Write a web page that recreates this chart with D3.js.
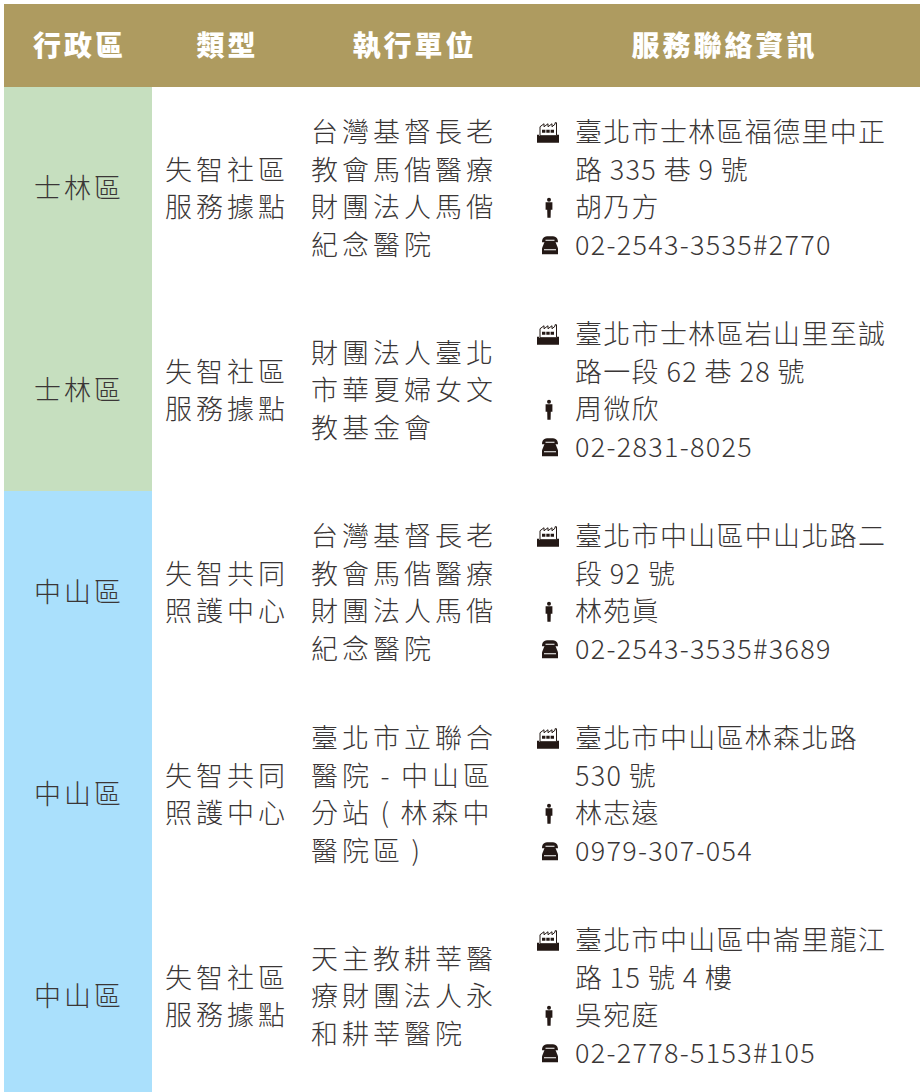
<!DOCTYPE html>
<html>
<head>
<meta charset="utf-8">
<script src="https://cdn.jsdelivr.net/npm/d3@7/dist/d3.min.js"></script>
<style>
  html, body { margin: 0; padding: 0; background: #fff; }
  svg { display: block; }
  text { font-family: "Noto Sans CJK TC", "Noto Sans", sans-serif; }
</style>
</head>
<body>
<svg id="table"></svg>
<script>
const headers = ['行政區', '類型', '執行單位', '服務聯絡資訊'];
const districts = ['士林區', '士林區', '中山區', '中山區', '中山區'];
const types = [
  ['失智社區', '服務據點'],
  ['失智社區', '服務據點'],
  ['失智共同', '照護中心'],
  ['失智共同', '照護中心'],
  ['失智社區', '服務據點']
];
const agencies = [
  ['台灣基督長老', '教會馬偕醫療', '財團法人馬偕', '紀念醫院'],
  ['財團法人臺北', '市華夏婦女文', '教基金會'],
  ['台灣基督長老', '教會馬偕醫療', '財團法人馬偕', '紀念醫院'],
  ['臺北市立聯合', '醫院 - 中山區', '分站 ( 林森中', '醫院區 )'],
  ['天主教耕莘醫', '療財團法人永', '和耕莘醫院']
];
const addresses = [
  ['臺北市士林區福德里中正', '路 335 巷 9 號'],
  ['臺北市士林區岩山里至誠', '路一段 62 巷 28 號'],
  ['臺北市中山區中山北路二', '段 92 號'],
  ['臺北市中山區林森北路', '530 號'],
  ['臺北市中山區中崙里龍江', '路 15 號 4 樓']
];
const contacts = ['胡乃方', '周微欣', '林苑眞', '林志遠', '吳宛庭'];
const phones = ['02-2543-3535#2770', '02-2831-8025', '02-2543-3535#3689', '0979-307-054', '02-2778-5153#105'];
const districtColors = { '士林區': '#c6dfbf', '中山區': '#aae0fc' };

const width = 920, height = 1092;
const headerColor = '#ae9b60';
const textColor = '#3a3636';
const iconColor = '#231815';
const lineGap = 37.5;

const svg = d3.select('#table').attr('width', width).attr('height', height);

// last row runs past the bottom edge of the picture
const y = d3.scaleBand().domain(d3.range(districts.length)).range([87, 1097]);

// header
svg.append('rect').attr('x', 4).attr('y', 4).attr('width', 916).attr('height', 83).attr('fill', headerColor);
const headerX = [78, 226, 413, 723];
svg.selectAll('.head').data(headers).join('text')
  .attr('class', 'head')
  .attr('x', (d, i) => headerX[i] + 1.5)
  .attr('y', 46)
  .attr('dy', '0.35em')
  .attr('text-anchor', 'middle')
  .attr('fill', '#fff')
  .style('font-size', '28px')
  .style('font-weight', 900)
  .style('letter-spacing', '3px')
  .text(d => d);

// district column
svg.selectAll('.cell').data(districts).join('rect')
  .attr('class', 'cell')
  .attr('x', 4)
  .attr('y', (d, i) => y(i))
  .attr('width', 148)
  .attr('height', y.bandwidth() + 0.5)
  .attr('fill', d => districtColors[d]);

svg.selectAll('.district').data(districts).join('text')
  .attr('class', 'district')
  .attr('x', 79)
  .attr('y', (d, i) => y(i) + y.bandwidth() / 2 + 1)
  .attr('dy', '0.35em')
  .attr('text-anchor', 'middle')
  .attr('fill', textColor)
  .style('font-size', '27px')
  .style('font-weight', 300)
  .style('letter-spacing', '3px')
  .text(d => d);

// icons
const defs = svg.append('defs');
const factory = defs.append('g').attr('id', 'icon-factory');
factory.append('path').attr('fill', '#fff').attr('stroke', iconColor).attr('stroke-width', 1)
  .attr('d', 'M-8 3 L-8-6 L-4-9 L-4-6 L0-9 L0-6 L4-9 L4-6 L7-8.5 L7-10 L8.5-10 L8.5 3 Z');
factory.append('path').attr('fill', iconColor).attr('d', 'M-6-3h3.4v3h-3.4z M-1.7-3h3.4v3h-3.4z M2.6-3h3.4v3h-3.4z');
factory.append('path').attr('fill', iconColor).attr('d', 'M-11 2 L-9 2 L-9 3 L9 3 L9 2 L11 2 L11 10 L-11 10 Z');
const person = defs.append('g').attr('id', 'icon-person').attr('fill', iconColor);
person.append('circle').attr('cx', 0).attr('cy', -8).attr('r', 2);
person.append('path').attr('d', 'M-3.4-5.5 L3.4-5.5 L3.4 2 L1.8 2 L1.6 10 L-1.6 10 L-1.8 2 L-3.4 2 Z');
const phone = defs.append('g').attr('id', 'icon-phone').attr('fill', iconColor);
phone.append('path').attr('d', 'M-8-3 C-8-9 -4-9 0-9 C4-9 8-9 8-3 L4.5-3 L4.5-5.5 L-4.5-5.5 L-4.5-3 Z');
phone.append('path').attr('d', 'M-5-4.5 L5-4.5 L8 3 L8 9 L-8 9 L-8 3 Z');
phone.append('rect').attr('x', -6).attr('y', 4).attr('width', 12).attr('height', 1).attr('fill', '#fff');

const rows = svg.selectAll('.row').data(districts).join('g')
  .attr('class', 'row')
  .attr('transform', (d, i) => `translate(0,${y(i) + y.bandwidth() / 2 + 1})`);

function multiline(sel, lines, x, spacing, wordSpacing) {
  const offset = -(lines.length - 1) * lineGap / 2;
  sel.selectAll(null).data(lines).join('text')
    .attr('x', x)
    .attr('y', (d, i) => offset + i * lineGap)
    .attr('dy', '0.35em')
    .attr('fill', textColor)
    .style('font-size', '27px')
    .style('font-weight', 200)
    .style('letter-spacing', spacing + 'px')
    .style('word-spacing', wordSpacing + 'px')
    .text(d => d);
}

rows.each(function (d, i) {
  const row = d3.select(this);
  multiline(row.append('g'), types[i], 165, 4, 0);
  multiline(row.append('g'), agencies[i], 311, 4, -2.5);

  const info = [addresses[i][0], addresses[i][1], contacts[i], phones[i]];
  multiline(row.append('g'), info, 575, 1.3, -0.7);

  const iconY = k => (k - 1.5) * lineGap;
  row.append('use').attr('href', '#icon-factory').attr('x', 548).attr('y', iconY(0));
  row.append('use').attr('href', '#icon-person').attr('x', 549).attr('y', iconY(2));
  row.append('use').attr('href', '#icon-phone').attr('x', 550).attr('y', iconY(3));
});
</script>
</body>
</html>
